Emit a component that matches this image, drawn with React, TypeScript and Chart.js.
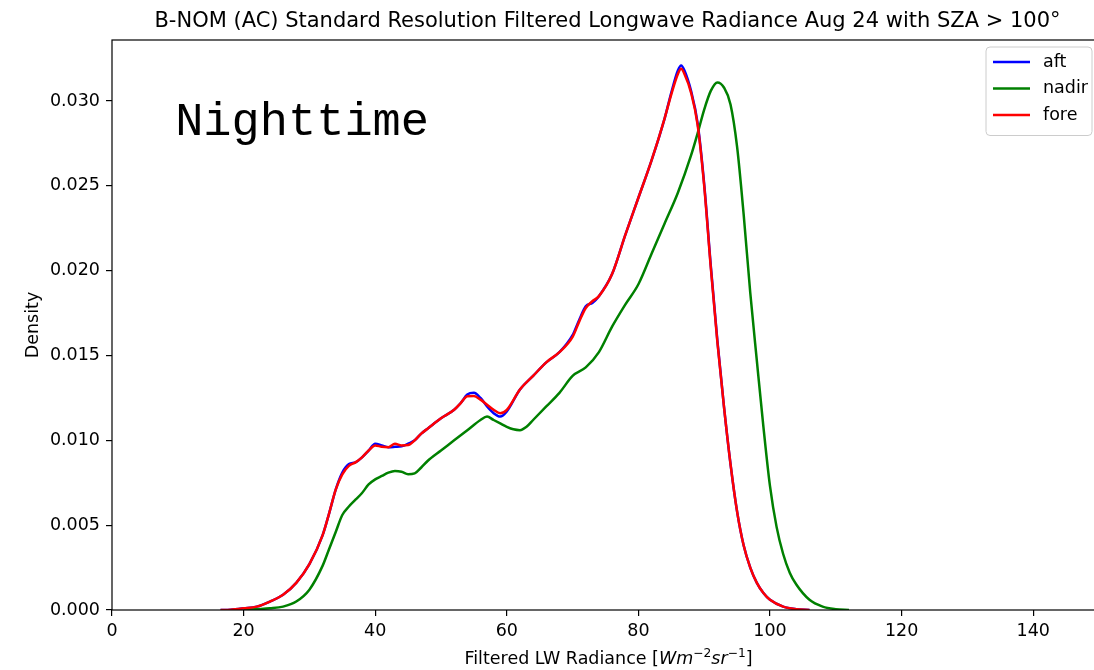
import React, { useEffect, useRef } from "react";
import { Chart, registerables } from "chart.js";

Chart.register(...registerables);

// ---------- data ----------
const radianceAftFore = [
  16.5, 18, 20, 22, 24, 26, 28, 30,
  32, 33, 34, 35, 36, 37, 38, 39, 40, 41, 42, 43, 44, 45, 46, 47, 48,
  50, 52, 53, 54, 55, 56, 57, 58, 59, 60,
  62, 64, 66, 68, 70,
  71, 72, 73, 74,
  76, 78, 80, 82, 84,
  85, 86, 86.5, 87, 88, 89, 90, 91, 92, 93, 94, 95, 96, 97, 98, 99, 100,
  102, 104, 106,
];

const aftDensity = [
  0, 0.00002, 0.0001, 0.0002, 0.0005, 0.0009, 0.0016, 0.0027,
  0.0044, 0.0057, 0.0071, 0.0081, 0.0086, 0.0087, 0.0090, 0.0094, 0.0098, 0.0097, 0.0096, 0.00962, 0.00965, 0.0098, 0.0100, 0.0104, 0.0107,
  0.0113, 0.0118, 0.0122, 0.0127, 0.0128, 0.0125, 0.0120, 0.0116, 0.0114, 0.0117,
  0.0130, 0.0138, 0.0146, 0.0152, 0.0162,
  0.0171, 0.0179, 0.0181, 0.0185,
  0.0198, 0.0221, 0.0243, 0.0265, 0.0290,
  0.0305, 0.0318, 0.0321, 0.0318, 0.0306, 0.0287, 0.0251, 0.0203, 0.0159, 0.0120, 0.0086, 0.0058, 0.0038, 0.0025, 0.0016, 0.0010, 0.0006,
  0.0002, 0.00005, 0,
];

const foreDensity = [
  0, 0.00002, 0.0001, 0.0002, 0.0005, 0.0009, 0.0016, 0.0027,
  0.0044, 0.0057, 0.0071, 0.0080, 0.0085, 0.0087, 0.0090, 0.0094, 0.0097, 0.00962, 0.0096, 0.0098, 0.0097, 0.00972, 0.0100, 0.0104, 0.0107,
  0.0113, 0.0118, 0.0122, 0.0126, 0.01262, 0.0124, 0.0121, 0.0118, 0.0116, 0.0118,
  0.0130, 0.0138, 0.0146, 0.0152, 0.0161,
  0.0170, 0.0178, 0.0182, 0.0185,
  0.0198, 0.0221, 0.0243, 0.0265, 0.0290,
  0.0304, 0.0316, 0.0319, 0.0316, 0.0305, 0.0286, 0.0250, 0.0202, 0.0158, 0.0120, 0.0086, 0.0058, 0.0038, 0.0025, 0.0016, 0.0010, 0.0006,
  0.0002, 0.00005, 0,
];

const radianceNadir = [
  20, 22, 24, 26, 28, 30,
  32, 33, 34, 35, 36, 37, 38, 39, 40, 41, 42, 43, 44, 45, 46, 47, 48,
  50, 52, 54, 56,
  57, 58, 59, 60, 61, 62, 63, 64,
  66, 68, 70, 72, 74, 76, 78, 80, 82, 84, 86, 88,
  89, 90, 91, 92, 93, 94, 95, 96, 97, 98, 99, 100, 101, 102, 103, 104,
  106, 108, 110, 112,
];

const nadirDensity = [
  0, 0.00005, 0.0001, 0.0002, 0.0005, 0.0012,
  0.0026, 0.0036, 0.0046, 0.0056, 0.0061, 0.0065, 0.0069, 0.0074, 0.0077, 0.0079, 0.0081, 0.0082, 0.00815, 0.0080, 0.00805, 0.0084, 0.0088,
  0.0094, 0.0100, 0.0106, 0.0112,
  0.0114, 0.0112, 0.0110, 0.0108, 0.01065, 0.0106, 0.0108, 0.0112,
  0.0120, 0.0128, 0.0138, 0.0143, 0.0152, 0.0167, 0.0180, 0.0192, 0.0210, 0.0228, 0.0246, 0.0268,
  0.0281, 0.0295, 0.0306, 0.0311, 0.0308, 0.0298, 0.0273, 0.0233, 0.0187, 0.0147, 0.0108, 0.0073, 0.0049, 0.0033, 0.0022, 0.0015,
  0.0006, 0.0002, 0.00005, 0,
];

const seriesLabels = ["aft", "nadir", "fore"];
const seriesColors = ["#0000ff", "#008000", "#ff0000"];

const xTickValues = [0, 20, 40, 60, 80, 100, 120, 140];
const yTickValues = [0, 0.005, 0.01, 0.015, 0.02, 0.025, 0.03];
const xRange = [0, 150];
const yRange = [0, 0.0336];

const titleText =
  "B-NOM (AC) Standard Resolution Filtered Longwave Radiance Aug 24 with SZA > 100°";
const yAxisTitle = "Density";
const annotationText = "Nighttime";
const annotationX = 9.6;
const annotationY = 0.028;

// ---------- layout constants ----------
const CANVAS_W = 1110;
const CANVAS_H = 670;
const FONT = '"DejaVu Sans", sans-serif';
const LABEL_SIZE = 17.5;
const TITLE_SIZE = 21;

const toPoints = (xs: number[], ys: number[]) => xs.map((x, i) => ({ x, y: ys[i] }));

const decorPlugin = {
  id: "decor",
  afterDatasetsDraw(chart: any) {
    const { ctx, chartArea: ca } = chart;
    ctx.save();
    ctx.strokeStyle = "#000";
    ctx.lineWidth = 1.2;
    ctx.strokeRect(ca.left, ca.top, ca.right - ca.left, ca.bottom - ca.top);
    ctx.restore();
  },
  afterDraw(chart: any) {
    const { ctx, chartArea: ca, scales } = chart;
    ctx.save();
    ctx.fillStyle = "#000";

    // title
    ctx.font = `${TITLE_SIZE}px ${FONT}`;
    ctx.textAlign = "center";
    ctx.textBaseline = "alphabetic";
    ctx.fillText(titleText, (ca.left + ca.right) / 2 + 2, 27);

    // y axis title
    ctx.save();
    ctx.font = `${LABEL_SIZE}px ${FONT}`;
    ctx.translate(38, (ca.top + ca.bottom) / 2);
    ctx.rotate(-Math.PI / 2);
    ctx.textAlign = "center";
    ctx.textBaseline = "alphabetic";
    ctx.fillText(yAxisTitle, 0, 0);
    ctx.restore();

    // x axis title with math superscripts
    const fs = LABEL_SIZE;
    const parts = [
      { t: "Filtered LW Radiance [", f: `${fs}px ${FONT}`, dy: 0 },
      { t: "Wm", f: `italic ${fs}px ${FONT}`, dy: 0 },
      { t: "\u22122", f: `${fs * 0.7}px ${FONT}`, dy: -fs * 0.42 },
      { t: "sr", f: `italic ${fs}px ${FONT}`, dy: 0 },
      { t: "\u22121", f: `${fs * 0.7}px ${FONT}`, dy: -fs * 0.42 },
      { t: "]", f: `${fs}px ${FONT}`, dy: 0 },
    ];
    let total = 0;
    const widths = parts.map((p) => {
      ctx.font = p.f;
      const w = ctx.measureText(p.t).width;
      total += w;
      return w;
    });
    let xx = (ca.left + ca.right) / 2 - total / 2 + 3;
    ctx.textAlign = "left";
    ctx.textBaseline = "alphabetic";
    parts.forEach((p, i) => {
      ctx.font = p.f;
      ctx.fillText(p.t, xx, 664 + p.dy);
      xx += widths[i];
    });

    // annotation
    ctx.font = `47px "Liberation Mono", "Courier New", monospace`;
    ctx.textAlign = "left";
    ctx.textBaseline = "alphabetic";
    ctx.fillText(
      annotationText,
      scales.x.getPixelForValue(annotationX),
      scales.y.getPixelForValue(annotationY)
    );

    // legend
    const boxRight = ca.right - 7;
    const boxLeft = 986;
    const boxTop = ca.top + 7;
    const rowH = 26.5;
    const boxBottom = boxTop + rowH * 3 + 9;
    ctx.fillStyle = "rgba(255,255,255,0.8)";
    ctx.strokeStyle = "#cccccc";
    ctx.lineWidth = 1;
    const r = 4;
    ctx.beginPath();
    ctx.moveTo(boxLeft + r, boxTop);
    ctx.lineTo(boxRight - r, boxTop);
    ctx.quadraticCurveTo(boxRight, boxTop, boxRight, boxTop + r);
    ctx.lineTo(boxRight, boxBottom - r);
    ctx.quadraticCurveTo(boxRight, boxBottom, boxRight - r, boxBottom);
    ctx.lineTo(boxLeft + r, boxBottom);
    ctx.quadraticCurveTo(boxLeft, boxBottom, boxLeft, boxBottom - r);
    ctx.lineTo(boxLeft, boxTop + r);
    ctx.quadraticCurveTo(boxLeft, boxTop, boxLeft + r, boxTop);
    ctx.closePath();
    ctx.fill();
    ctx.stroke();
    ctx.font = `${LABEL_SIZE}px ${FONT}`;
    ctx.textBaseline = "middle";
    seriesLabels.forEach((lab, i) => {
      const cy = boxTop + 15 + i * rowH;
      ctx.strokeStyle = seriesColors[i];
      ctx.lineWidth = 2.5;
      ctx.beginPath();
      ctx.moveTo(993, cy);
      ctx.lineTo(1030, cy);
      ctx.stroke();
      ctx.fillStyle = "#000";
      ctx.fillText(lab, 1043, cy);
    });
    ctx.restore();
  },
};

export default function App() {
  const ref = useRef<HTMLCanvasElement>(null);
  useEffect(() => {
    document.body.style.overflow = "hidden";
    const canvas = ref.current!;
    const series = [
      toPoints(radianceAftFore, aftDensity),
      toPoints(radianceNadir, nadirDensity),
      toPoints(radianceAftFore, foreDensity),
    ];
    const chart = new Chart(canvas, {
      type: "line",
      data: {
        datasets: series.map((pts, i) => ({
          label: seriesLabels[i],
          data: pts,
          borderColor: seriesColors[i],
          backgroundColor: seriesColors[i],
          borderWidth: 2.5,
          pointRadius: 0,
          fill: false,
          cubicInterpolationMode: "monotone" as const,
          order: i === 2 ? 0 : i === 1 ? 1 : 2,
        })),
      },
      options: {
        animation: false,
        responsive: false,
        devicePixelRatio: 1,
        layout: { padding: { left: 0, top: 40, right: CANVAS_W - 1099, bottom: 0 } },
        plugins: {
          legend: { display: false },
          title: { display: false },
          tooltip: { enabled: false },
        },
        scales: {
          x: {
            type: "linear",
            min: xRange[0],
            max: xRange[1],
            afterFit: (s: any) => {
              s.height = 60;
            },
            afterBuildTicks: (s: any) => {
              s.ticks = xTickValues.map((v) => ({ value: v }));
            },
            ticks: {
              color: "#000",
              font: { family: FONT, size: LABEL_SIZE },
              padding: 5,
              maxRotation: 0,
              autoSkip: false,
              callback: (v: any) => String(v),
            },
            grid: {
              display: true,
              drawOnChartArea: false,
              drawTicks: true,
              tickLength: 6,
              color: "#000",
              lineWidth: 1.2,
            },
            border: { display: false },
          },
          y: {
            type: "linear",
            min: yRange[0],
            max: yRange[1],
            afterFit: (s: any) => {
              s.width = 112;
            },
            afterBuildTicks: (s: any) => {
              s.ticks = yTickValues.map((v) => ({ value: v }));
            },
            ticks: {
              color: "#000",
              font: { family: FONT, size: LABEL_SIZE },
              padding: 6,
              autoSkip: false,
              callback: (v: any) => Number(v).toFixed(3),
            },
            grid: {
              display: true,
              drawOnChartArea: false,
              drawTicks: true,
              tickLength: 6,
              color: "#000",
              lineWidth: 1.2,
            },
            border: { display: false },
          },
        },
      },
      plugins: [decorPlugin],
    } as any);
    return () => chart.destroy();
  }, []);
  return (
    <canvas
      ref={ref}
      width={CANVAS_W}
      height={CANVAS_H}
      style={{ position: "fixed", left: 0, top: 0, width: CANVAS_W, height: CANVAS_H, display: "block" }}
    />
  );
}
